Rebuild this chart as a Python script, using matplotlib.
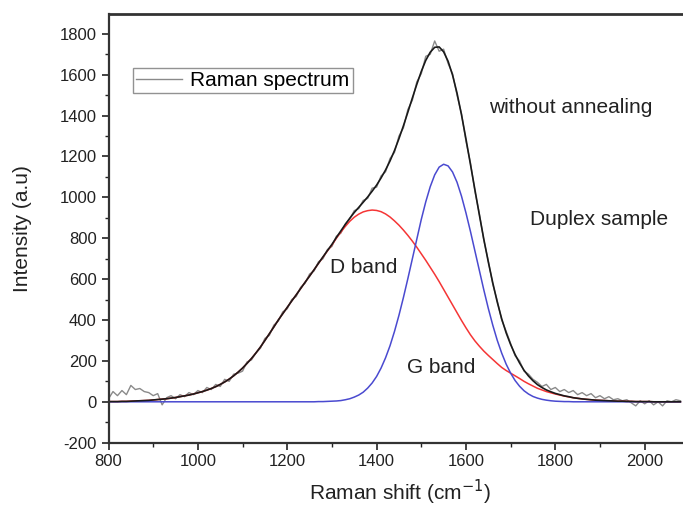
import numpy as np
import matplotlib
matplotlib.use("Agg")
import matplotlib.pyplot as plt
from matplotlib.ticker import MultipleLocator

plt.rcParams['font.family'] = ['Liberation Sans', 'DejaVu Sans']
plt.rcParams['axes.unicode_minus'] = False

# Raman shift grid (cm^-1), 10 cm^-1 steps
shift = np.arange(800, 2081, 10)

# D band (red)
d_band = [
    1, 1, 1, 2, 2, 3, 4, 5, 6, 7,
    9, 11, 13, 15, 18, 21, 25, 29, 33, 38,
    44, 50, 57, 65, 74, 85, 97, 111, 127, 145,
    165, 188, 212, 239, 268, 300, 333, 366, 400, 431,
    462, 493, 523, 554, 585, 615, 646, 677, 708, 738,
    767, 800, 830, 858, 883, 903, 918, 929, 935, 938,
    936, 930, 919, 904, 885, 864, 840, 814, 786, 756,
    724, 692, 658, 624, 588, 550, 512, 474, 436, 398,
    362, 328, 298, 272, 248, 227, 207, 187, 168, 153,
    140, 127, 114, 100, 88, 77, 66, 58, 50, 44,
    38, 33, 28, 24, 20, 17, 14, 12, 10, 8,
    7, 6, 5, 4, 3, 3, 2, 2, 1, 1,
    1, 1, 0, 0, 0, 0, 0, 0, 0,
]

# G band (blue)
g_band = [0] * 47 + [
    1, 1, 2,
    3, 4, 6, 10, 15, 23, 33, 47, 67, 92,
    124, 165, 215, 274, 344, 423, 510, 603, 700, 797,
    892, 978, 1052, 1110, 1148, 1162, 1154, 1124, 1074, 1006,
    924, 834, 739, 642, 547, 457, 375, 301, 238, 184,
    140, 104, 76, 54, 38, 26, 18, 12, 8, 5,
    3, 2, 1, 1,
] + [0] * 25

# measured spectrum (grey, noisy)
spectrum = [
    15, 50, 30, 55, 35, 80, 60, 65, 50, 45,
    30, 40, -15, 20, 30, 15, 35, 25, 45, 35,
    55, 45, 70, 60, 85, 75, 110, 100, 135, 140,
    150, 195, 205, 240, 262, 310, 325, 375, 395, 440,
    455, 500, 515, 560, 580, 625, 640, 685, 700, 745,
    760, 810, 825, 870, 895, 935, 945, 985, 995, 1045,
    1050, 1105, 1125, 1190, 1220, 1300, 1340, 1430, 1475, 1565,
    1605, 1690, 1700, 1765, 1715, 1725, 1655, 1605, 1500, 1410,
    1275, 1170, 1030, 920, 790, 690, 575, 495, 400, 345,
    285, 225, 200, 150, 135, 110, 95, 75, 85, 60,
    70, 50, 60, 45, 55, 35, 45, 30, 40, 20,
    30, 15, 25, 10, 15, 5, 10, -5, -20, 5,
    -10, 5, -15, 0, -20, 5, 0, 10, 5,
]

d_band = np.array(d_band)
g_band = np.array(g_band)
fit_total = d_band + g_band

fig = plt.figure(figsize=(6.83, 5.11), dpi=100)
ax = fig.add_axes([0.1589, 0.1337, 0.8504, 0.8389])

ax.plot(shift, spectrum, color='#8a8a8a', lw=1.0, label='Raman spectrum')
ax.plot(shift, d_band, color='#f53535', lw=1.1)
ax.plot(shift, g_band, color='#4a4ad0', lw=1.1)
ax.plot(shift, fit_total, color='#1a1a1a', lw=1.2)

ax.set_xlim(800, 2100)
ax.set_ylim(-200, 1897)
ax.xaxis.set_major_locator(MultipleLocator(200))
ax.xaxis.set_minor_locator(MultipleLocator(100))
ax.yaxis.set_major_locator(MultipleLocator(200))
ax.yaxis.set_minor_locator(MultipleLocator(100))
ax.tick_params(which='major', direction='out', length=5, width=1.2,
               labelsize=12, colors='#222222')
ax.tick_params(which='minor', direction='out', length=3, width=1.0,
               colors='#222222')
for s in ax.spines.values():
    s.set_linewidth(1.6)
    s.set_color('#333333')
ax.spines['top'].set_linewidth(2.0)

ax.set_xlabel('Raman shift (cm$^{-1}$)', fontsize=15, color='#222222')
ax.set_ylabel('Intensity (a.u)', fontsize=15, color='#222222')
ax.xaxis.set_label_coords(0.502, -0.083)
ax.yaxis.set_label_coords(-0.132, 0.5)

fig.text(571 / 683, 1 - 107 / 511, 'without annealing', fontsize=15,
         ha='center', va='center', color='#222222')
fig.text(599 / 683, 1 - 219 / 511, 'Duplex sample', fontsize=15,
         ha='center', va='center', color='#222222')
fig.text(364 / 683, 1 - 267 / 511, 'D band', fontsize=15,
         ha='center', va='center', color='#222222')
fig.text(441 / 683, 1 - 367 / 511, 'G band', fontsize=15,
         ha='center', va='center', color='#222222')

leg = ax.legend(loc='upper left', bbox_to_anchor=(133 / 683, 1 - 68 / 511),
                bbox_transform=fig.transFigure, fontsize=15, frameon=True,
                fancybox=False, borderpad=0.15, handlelength=2.2,
                handletextpad=0.4, borderaxespad=0)
leg.get_frame().set_edgecolor('#777777')
leg.get_frame().set_linewidth(1.0)

fig.savefig('out.png', dpi=100)
